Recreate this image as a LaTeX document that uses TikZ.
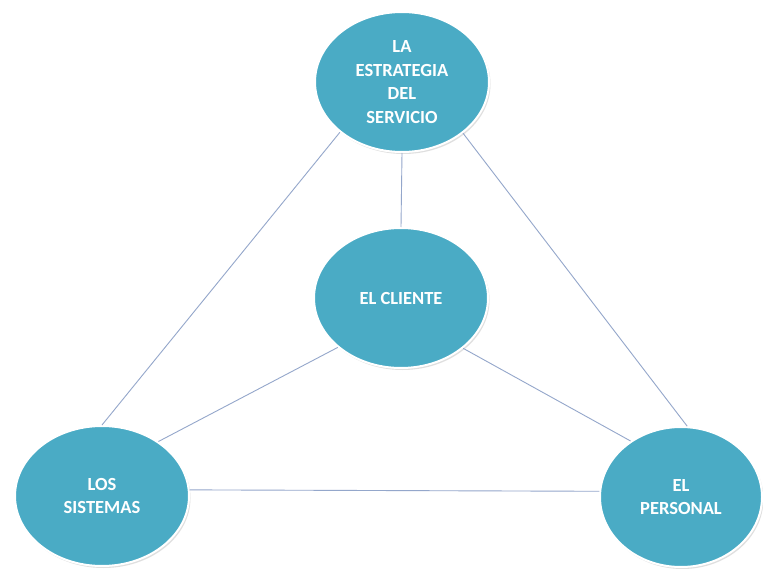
\documentclass[tikz,border=0pt]{standalone}
\usepackage{fontspec}
\setmainfont{Carlito}
\usepackage{tikz}
\usetikzlibrary{shapes.geometric,shadows}
\definecolor{aqua}{HTML}{4AABC5}
\definecolor{linkc}{HTML}{94A7CB}
\tikzset{
  bubble/.style={ellipse, fill=aqua, draw=white, line width=2pt, inner sep=0pt,
    minimum width=174pt, minimum height=140pt, text=white, align=center,
    font=\fontsize{18.5}{23.5}\selectfont\bfseries,
    drop shadow={opacity=0.25, shadow xshift=1.5pt, shadow yshift=-2pt}},
  link/.style={draw=linkc, line width=0.9pt},
}
\begin{document}
\begin{tikzpicture}[x=1pt,y=-1pt]
  \useasboundingbox[fill=white] (0,0) rectangle (763,569);
  \node[bubble] (estr) at (402,82) {LA\\ESTRATEGIA\\DEL\\SERVICIO};
  \node[bubble] (cli) at (401,298) {EL CLIENTE};
  \node[bubble] (sis) at (102,496) {LOS\\SISTEMAS};
  \node[bubble, minimum width=162pt] (pers) at (681,497) {EL\\PERSONAL};
  % connectors between the bubbles
  \draw[link] (estr.219) -- (sis.90);
  \draw[link] (estr.320) -- (pers.85);
  \draw[link] (estr.south) -- (cli.north);
  \draw[link] (cli.218) -- (sis.44);
  \draw[link] (cli.321) -- (pers.132);
  \draw[link] (sis.4) -- (pers.176);
\end{tikzpicture}
\end{document}
